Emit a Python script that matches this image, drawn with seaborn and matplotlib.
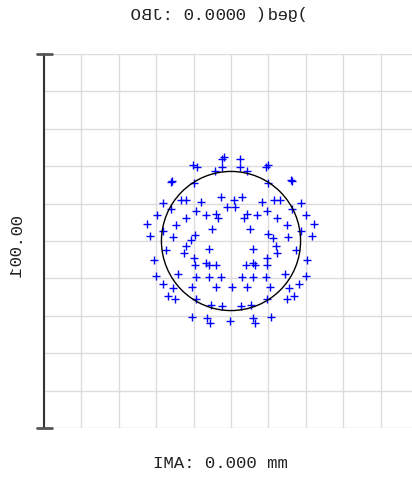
import numpy as np
import pandas as pd
import matplotlib
matplotlib.use("Agg")
import matplotlib.pyplot as plt
import matplotlib.text as mtext
import seaborn as sns
from matplotlib.backends.backend_agg import get_hinting_flag

# ---- data (micrometres on the image plane) ----
spot_x = [-1.8, -2.4, 2.4, -10.1, -9.0, -2.5, 2.4, 4.4, -4.3, 10.0, 9.4, -15.9, -16.1,
          -9.9, 10.0, 16.0, 16.2, -2.8, 2.9, 0.8, -13.5, -11.9, -8.0, 11.5, 13.1, 8.2,
          -18.3, 18.6, -1.0, 1.1, -16.1, 16.4, -9.4, 9.5, -6.8, -4.0, -3.4, 4.4, 3.5,
          7.0, -12.0, 12.2, -19.9, 20.0, -22.4, 22.2, -14.7, 14.9, -5.2, 5.1, -18.3,
          18.6, -21.7, 21.6, -15.4, 15.3, -9.6, -10.8, 10.0, 11.1, -11.9, 12.0, -12.6,
          12.2, -17.4, 17.4, -5.8, 5.8, -20.6, 20.4, -9.9, -9.6, 9.5, 9.5, -6.7, -5.9,
          -4.0, 4.0, 6.0, 6.4, -14.3, 14.4, -20.1, 20.1, -9.4, -5.9, -2.8, 2.9, 5.8,
          9.4, -18.1, 18.3, -15.6, 15.5, -10.5, -4.0, 0.2, 4.4, 10.4, -16.8, -15.0,
          14.9, 16.9, -9.4, 9.5, -5.3, -2.5, 2.6, 5.3, -10.5, -6.5, -5.6, -0.4, 5.8,
          6.4, 10.6]
spot_y = [22.4, 21.8, 21.8, 20.3, 19.7, 19.7, 19.7, 18.8, 18.8, 20.3, 19.7, 16.1, 15.9,
          15.4, 15.4, 16.3, 16.0, 11.7, 11.7, 11.0, 11.0, 11.0, 10.5, 11.0, 11.0, 10.5,
          10.1, 10.1, 9.0, 9.0, 8.5, 8.5, 8.0, 8.0, 7.0, 7.1, 6.2, 7.1, 6.2,
          7.0, 6.2, 6.2, 7.0, 7.0, 4.5, 4.5, 4.3, 4.3, 3.2, 3.2, 2.8,
          2.8, 1.4, 1.4, 1.2, 1.2, 1.6, 0.4, 2.0, 0.7, -1.3, -1.3, -3.3,
          -3.3, -2.4, -2.4, -2.1, -2.1, -5.1, -5.1, -4.6, -6.4, -4.6, -6.4, -5.8, -6.4,
          -6.4, -6.4, -5.8, -6.4, -8.8, -8.8, -9.3, -9.3, -9.5, -9.5, -9.7, -9.7, -9.5,
          -9.5, -11.5, -11.5, -12.5, -12.5, -12.4, -12.4, -12.4, -12.4, -12.4, -14.7, -15.6,
          -15.6, -14.7, -15.5, -15.5, -17.1, -17.3, -17.3, -17.1, -20.2, -20.7, -21.8, -21.3, -20.7,
          -21.8, -20.2]
airy_radius = 18.6
scale_limit = 50
title_text = "OBJ: 0.0000 (deg)"
scale_text = "100.00"
bottom_text = "IMA: 0.000 mm"

df = pd.DataFrame({"x": spot_x, "y": spot_y})


class GlyphMirrorText(mtext.Text):
    """Real text artist whose glyphs are each drawn mirrored left-right."""
    def draw(self, renderer):
        if not hasattr(renderer, "_renderer") or not hasattr(renderer, "_prepare_font"):
            return super().draw(renderer)
        fsize_px = self.get_fontsize() * renderer.dpi / 72.0

        def draw_text(gc, x, y, s, prop, angle, ismath=False, mtext=None):
            font = renderer._prepare_font(prop)
            flags = get_hinting_flag()
            th = np.radians(angle)
            pen = 0.0
            for ch in s:
                try:
                    adv = font.load_char(ord(ch), flags=flags).horiAdvance / 64.0
                except Exception:
                    adv = 0.6 * fsize_px
                if not (0.3 * fsize_px < adv < 1.2 * fsize_px):
                    adv = 0.6 * fsize_px
                if ch.strip():
                    font.set_text(ch, 0, flags=flags)
                    font.draw_glyphs_to_bitmap(antialiased=gc.get_antialiased())
                    img = np.asarray(font.get_image())
                    if img.size:
                        d = font.get_descent() / 64.0
                        xo, yo = font.get_bitmap_offset()
                        xo /= 64.0
                        yo /= 64.0
                        bw = img.shape[1]
                        u = pen + (adv - xo - bw)
                        xx = x + u * np.cos(th) + d * np.sin(th)
                        yy = y - u * np.sin(th) + d * np.cos(th) + yo
                        renderer._renderer.draw_text_image(
                            np.ascontiguousarray(img[:, ::-1]),
                            int(round(xx)), int(round(yy)) + 1, angle, gc)
                pen += adv

        renderer.draw_text = draw_text
        try:
            super().draw(renderer)
        finally:
            del renderer.draw_text


sns.set_theme(style="white")
plt.rcParams["font.family"] = ["Liberation Mono", "DejaVu Sans Mono"]

W, H = 412, 480
fig = plt.figure(figsize=(W / 100, H / 100), dpi=100)
ax = fig.add_axes([44 / W, (H - 428) / H, 374 / W, 374 / H])

sns.scatterplot(data=df, x="x", y="y", ax=ax, marker="+", color="#0000ff",
                s=34, linewidth=1.0, legend=False, zorder=3)

circle = plt.Circle((0, 0), airy_radius, fill=False, color="black", lw=1.0, zorder=4)
ax.add_patch(circle)

ax.set_xlim(-scale_limit, scale_limit)
ax.set_ylim(-scale_limit, scale_limit)
ticks = np.arange(-scale_limit, scale_limit + 1, 10)
ax.set_xticks(ticks)
ax.set_yticks(ticks)
ax.tick_params(length=0, labelbottom=False, labelleft=False)
ax.grid(True, color="#dcdcdc", lw=1.0)
for sp in ax.spines.values():
    sp.set_visible(False)
ax.set_xlabel("")
ax.set_ylabel("")

# left scale bar with end caps
ax.plot([0, 0], [0, 1], transform=ax.transAxes, color="#333333", lw=1.5,
        clip_on=False, zorder=5)
for yy in (0, 1):
    ax.plot([-7 / 374, 8 / 374], [yy, yy], transform=ax.transAxes, color="#555555",
            lw=2, clip_on=False, zorder=5)

fig.add_artist(GlyphMirrorText(18 / W, 1 - 246 / H, scale_text, rotation=90,
                               ha="center", va="center", fontsize=12.5,
                               color="#222222", transform=fig.transFigure))
fig.text(220 / W, 1 - 463 / H, bottom_text, ha="center", va="center",
         fontsize=12.5, color="#222222")
fig.add_artist(GlyphMirrorText(220 / W, 1 - 15 / H, title_text, ha="center",
                               va="center", fontsize=12.5, color="#222222",
                               transform=fig.transFigure))

fig.savefig("out.png", dpi=100)
